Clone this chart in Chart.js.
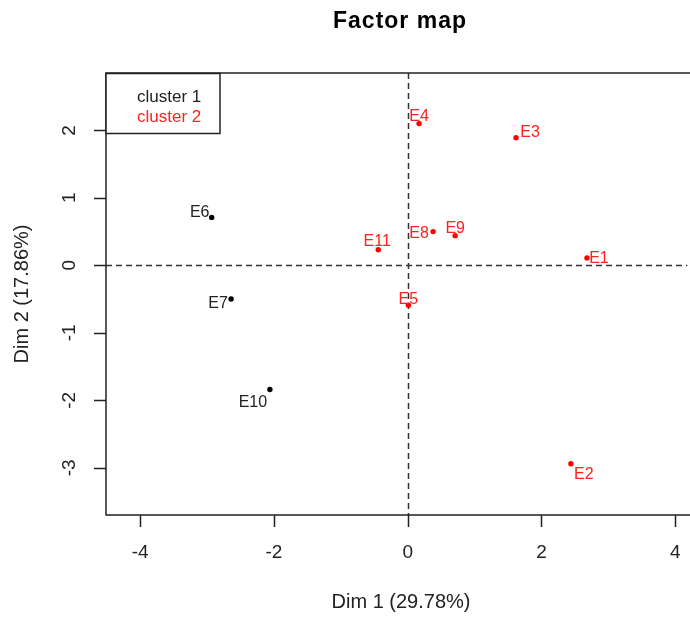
<!DOCTYPE html>
<html>
<head>
<meta charset="utf-8">
<script src="https://cdn.jsdelivr.net/npm/chart.js@4.4.0/dist/chart.umd.min.js"></script>
<style>
  html, body { margin: 0; padding: 0; background: #fff; overflow: hidden; }
  #wrap { width: 690px; height: 617px; }
</style>
</head>
<body>
<div id="wrap"><canvas id="factorMap"></canvas></div>
<script>
// Individuals on the first two dimensions
const labels = ['E1', 'E2', 'E3', 'E4', 'E5', 'E6', 'E7', 'E8', 'E9', 'E10', 'E11'];
const dim1 = [2.68, 2.44, 1.62, 0.17, 0.01, -2.93, -2.64, 0.38, 0.71, -2.06, -0.44];
const dim2 = [0.11, -2.94, 1.89, 2.10, -0.59, 0.71, -0.50, 0.50, 0.44, -1.84, 0.23];
const cluster = [2, 2, 2, 2, 2, 1, 1, 2, 2, 1, 2];

const clusterNames = ['cluster 1', 'cluster 2'];
const xTicks = [-4, -2, 0, 2, 4];
const yTicks = [-3, -2, -1, 0, 1, 2];

const clusterColors = ['#000000', '#ff0000'];
const FONT = '"Liberation Sans", Arial, sans-serif';

// label nudges in px (dx, dy) so text sits like the original
const labelNudge = {
    E1: [12, 1], E2: [13, 11], E3: [14, -5], E4: [0, -7], E5: [0, -6],
    E6: [-12, -5], E7: [-13, 5], E8: [-14, 2], E9: [0, -7], E10: [-17, 13], E11: [-1, -8]
};

function buildDatasets() {
    return clusterNames.map((name, c) => {
        const pts = [];
        labels.forEach((lab, i) => {
            if (cluster[i] === c + 1) pts.push({ x: dim1[i], y: dim2[i], label: lab });
        });
        return {
            label: name,
            data: pts,
            backgroundColor: clusterColors[c],
            borderColor: clusterColors[c],
            pointRadius: 2.7,
            pointHoverRadius: 2.7,
            borderWidth: 0
        };
    });
}

// Draws the R-style frame, axes, dashed origin lines, labels and legend
const factorMapPlugin = {
    id: 'factorMap',
    beforeDatasetsDraw(chart) {
        const { ctx, chartArea: a, scales: { x, y } } = chart;
        ctx.save();
        // dashed lines through the origin
        ctx.strokeStyle = '#333';
        ctx.lineWidth = 1.5;
        ctx.setLineDash([6, 4]);
        const x0 = Math.round(x.getPixelForValue(0)) + 0.5;
        const y0 = Math.round(y.getPixelForValue(0)) + 0.5;
        ctx.beginPath();
        ctx.moveTo(x0, a.top); ctx.lineTo(x0, a.bottom);
        ctx.moveTo(a.left, y0); ctx.lineTo(a.right, y0);
        ctx.stroke();
        ctx.setLineDash([]);

        // frame (right side is off the picture)
        ctx.strokeStyle = '#222';
        ctx.lineWidth = 1.5;
        ctx.beginPath();
        ctx.moveTo(a.right + 5, a.top);
        ctx.lineTo(a.left, a.top);
        ctx.lineTo(a.left, a.bottom);
        ctx.lineTo(a.right + 5, a.bottom);
        ctx.stroke();

        // x ticks
        ctx.fillStyle = '#222';
        ctx.font = '19px ' + FONT;
        ctx.textAlign = 'center';
        ctx.textBaseline = 'middle';
        ctx.beginPath();
        xTicks.forEach(v => {
            const px = Math.round(x.getPixelForValue(v)) + 0.5;
            ctx.moveTo(px, a.bottom);
            ctx.lineTo(px, a.bottom + 12);
        });
        ctx.stroke();
        xTicks.forEach(v => ctx.fillText(String(v), x.getPixelForValue(v), a.bottom + 38));

        // y ticks (labels rotated like R)
        ctx.beginPath();
        yTicks.forEach(v => {
            const py = Math.round(y.getPixelForValue(v)) + 0.5;
            ctx.moveTo(a.left, py);
            ctx.lineTo(a.left - 12, py);
        });
        ctx.stroke();
        yTicks.forEach(v => {
            ctx.save();
            ctx.translate(a.left - 36, y.getPixelForValue(v));
            ctx.rotate(-Math.PI / 2);
            ctx.fillText(String(v), 0, 0);
            ctx.restore();
        });

        // axis titles
        ctx.font = '20px ' + FONT;
        ctx.fillText('Dim 1 (29.78%)', 401, 602);
        ctx.save();
        ctx.translate(22, (a.top + a.bottom) / 2);
        ctx.rotate(-Math.PI / 2);
        ctx.fillText('Dim 2 (17.86%)', 0, 0);
        ctx.restore();

        // main title
        ctx.font = 'bold 23px ' + FONT;
        ctx.letterSpacing = '1px';
        ctx.fillStyle = '#000';
        ctx.fillText('Factor map', 400, 22);
        ctx.letterSpacing = '0px';

        // legend box
        ctx.fillStyle = '#fff';
        ctx.fillRect(a.left, a.top, 114, 60);
        ctx.strokeStyle = '#222';
        ctx.strokeRect(a.left, a.top + 0.5, 114, 60);
        ctx.font = '17px ' + FONT;
        ctx.textAlign = 'left';
        chart.data.datasets.forEach((ds, i) => {
            ctx.fillStyle = i === 0 ? '#222' : '#ff2020';
            ctx.fillText(ds.label, a.left + 31, a.top + 24 + i * 20);
        });
        ctx.restore();
    },
    afterDatasetsDraw(chart) {
        const { ctx } = chart;
        ctx.save();
        ctx.font = '16px ' + FONT;
        ctx.textAlign = 'center';
        ctx.textBaseline = 'middle';
        chart.data.datasets.forEach((ds, di) => {
            const meta = chart.getDatasetMeta(di);
            ctx.fillStyle = di === 0 ? '#222' : '#ff2020';
            meta.data.forEach((pt, j) => {
                const lab = ds.data[j].label;
                const n = labelNudge[lab] || [0, -8];
                ctx.fillText(lab, pt.x + n[0], pt.y + n[1]);
            });
        });
        ctx.restore();
    }
};

new Chart(document.getElementById('factorMap'), {
    type: 'scatter',
    data: { datasets: buildDatasets() },
    options: {
        responsive: true,
        maintainAspectRatio: false,
        animation: false,
        layout: { padding: { left: 106, top: 73, right: 0, bottom: 102 } },
        scales: {
            x: { type: 'linear', min: -4.51, max: 4.18, display: false },
            y: { type: 'linear', min: -3.70, max: 2.85, display: false }
        },
        plugins: {
            legend: { display: false },
            title: { display: false },
            tooltip: { enabled: false }
        }
    },
    plugins: [factorMapPlugin]
});
</script>
</body>
</html>
